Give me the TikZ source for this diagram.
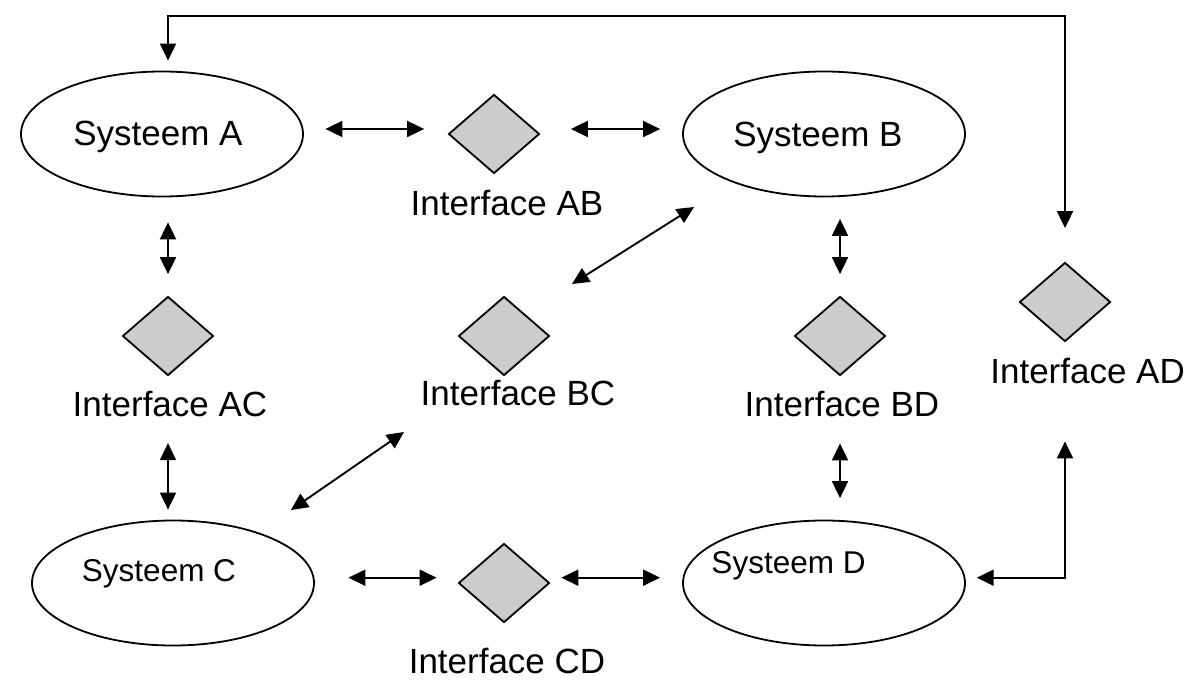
\documentclass[tikz,border=0pt]{standalone}
\usepackage{fontspec}
\setmainfont{Liberation Sans}
\usetikzlibrary{shapes.geometric,arrows.meta,calc}
\begin{document}
\begin{tikzpicture}[x=1pt,y=-1pt,
  sys/.style={draw,ellipse,line width=1.8pt,minimum width=282pt,minimum height=125pt,inner sep=0pt},
  iface/.style={draw,diamond,fill=gray!40,line width=1.8pt,minimum width=91pt,minimum height=79pt,inner sep=0pt},
  big/.style={font=\fontsize{35}{42}\selectfont,anchor=base,inner sep=0pt},
  small/.style={font=\fontsize{31.5}{38}\selectfont,anchor=base,inner sep=0pt},
  conn/.style={line width=1.9pt,{Triangle[length=17pt,width=16pt]}-{Triangle[length=17pt,width=16pt]}}
]
\fill[white] (0,0) rectangle (1188,680);
\useasboundingbox (0,0) rectangle (1188,680);

% systems
\node[sys] (A) at (162,134) {};
\node[sys] (B) at (824,134) {};
\node[sys] (C) at (173,583) {};
\node[sys] (D) at (824,583) {};
\node[big] (tA) at (158,145.5) {Systeem A};
\node[big] (tB) at (818,146.5) {Systeem B};
\node[small] (tC) at (159,581.3) {Systeem C};
\node[small] (tD) at (788.5,573.3) {Systeem D};

% interfaces
\node[iface] (dAB) at (494,134) {};
\node[iface] (dAC) at (168,336) {};
\node[iface] (dBC) at (504,336) {};
\node[iface] (dBD) at (840,336) {};
\node[iface] (dCD) at (504,583) {};
\node[iface] (dAD) at (1065,302) {};
\node[big] (lAB) at (507,215.5) {Interface AB};
\node[big] (lAC) at (170,416.5) {Interface AC};
\node[big] (lBC) at (518,405) {Interface BC};
\node[big] (lBD) at (842,416.7) {Interface BD};
\node[big] (lCD) at (507,673.3) {Interface CD};
\node[big] (lAD) at (1087.6,383.3) {Interface AD};

% free ends
\coordinate (top) at (0,16);
\coordinate (bcB1) at (572,284);
\coordinate (bcB2) at (694,207);
\coordinate (bcC1) at (404,432);
\coordinate (bcC2) at (291,510);

% connectors
\draw[conn,shorten <=21.5pt,shorten >=23.5pt] ($(A.east)+(0,-5)$) -- ($(dAB.west)+(0,-5)$);
\draw[conn,shorten <=30.5pt,shorten >=22pt] ($(dAB.east)+(0,-5)$) -- ($(B.west)+(0,-5)$);
\draw[conn,shorten <=25pt,shorten >=21.5pt] (A.south -| dAC.north) -- (dAC.north);
\draw[conn,shorten <=66.7pt,shorten >=10pt] (dAC.south) -- (C.north -| dAC.south);
\draw[conn,shorten <=21.5pt,shorten >=21.5pt] (B.south -| dBD.north) -- (dBD.north);
\draw[conn,shorten <=67pt,shorten >=21.5pt] (dBD.south) -- (D.north -| dBD.south);
\draw[conn,shorten <=33.5pt,shorten >=21pt] ($(C.east)+(0,-5.3)$) -- ($(dCD.west)+(0,-5.3)$);
\draw[conn,shorten <=11pt,shorten >=22pt] ($(dCD.east)+(0,-5.3)$) -- ($(D.west)+(0,-5.3)$);
\draw[conn] (bcB1) -- (bcB2);
\draw[conn] (bcC1) -- (bcC2);
\draw[conn,shorten <=10pt,shorten >=33.5pt] (A.north -| dAC.north) -- (dAC.north |- top) -- (dAD.north |- top) -- (dAD.north);
\draw[conn,shorten <=10.8pt,shorten >=99pt] ($(D.east)+(0,-5.3)$) -- ($(D.east -| dAD.south)+(0,-5.3)$) -- (dAD.south);
\end{tikzpicture}
\end{document}
